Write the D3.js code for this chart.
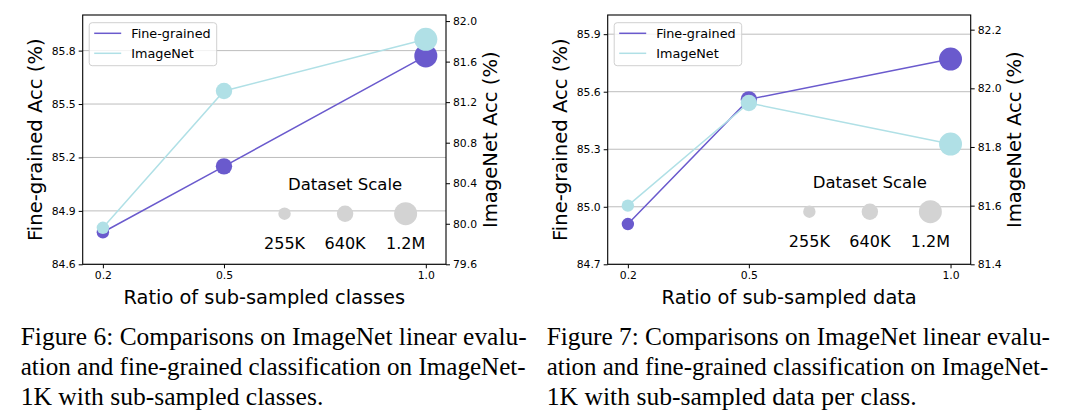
<!DOCTYPE html>
<html>
<head>
<meta charset="utf-8">
<script src="https://cdn.jsdelivr.net/npm/d3@7"></script>
<style>
  html, body { margin: 0; padding: 0; background: #fff; }
  svg { display: block; }
</style>
</head>
<body>
<svg id="chart" width="1072" height="416"></svg>
<script>
// ---------------- data ----------------
const ratios = [0.2, 0.5, 1.0];
const xTicks = [0.2, 0.5, 1.0];
const scaleLabels = ["255K", "640K", "1.2M"];
const scaleLegendX = [0.65, 0.8, 0.95];
const seriesNames = ["Fine-grained", "ImageNet"];

const fig6Fine = [84.78, 85.15, 85.77];
const fig6ImageNet = [79.96, 81.31, 81.82];
const fig6LeftTicks = [84.6, 84.9, 85.2, 85.5, 85.8];
const fig6RightTicks = [79.6, 80.0, 80.4, 80.8, 81.2, 81.6, 82.0];

const fig7Fine = [84.91, 85.56, 85.77];
const fig7ImageNet = [81.60, 81.95, 81.81];
const fig7LeftTicks = [84.7, 85.0, 85.3, 85.6, 85.9];
const fig7RightTicks = [81.4, 81.6, 81.8, 82.0, 82.2];

const caption6 = ["Figure 6: Comparisons on ImageNet linear evalu-",
                  "ation and fine-grained classification on ImageNet-",
                  "1K with sub-sampled classes."];
const caption7 = ["Figure 7: Comparisons on ImageNet linear evalu-",
                  "ation and fine-grained classification on ImageNet-",
                  "1K with sub-sampled data per class."];

// ---------------- styles ----------------
const FINE_COLOR = "#6a5acd";
const IN_COLOR = "#b0e0e6";
const GRID_COLOR = "#bdbdbd";
const SCALE_COLOR = "#d3d3d3";
const radius = d3.scaleOrdinal().domain([0, 1, 2]).range([6.2, 8.2, 11.5]);
const FONT = "DejaVu Sans, sans-serif";

const svg = d3.select("#chart");

const panels = [
  { left: 82.7, right: 446, top: 15, bottom: 264.3,
    xDomain: [0.15, 1.05], yLDomain: [84.6, 86.0], yRDomain: [79.6, 82.06],
    fine: fig6Fine, imagenet: fig6ImageNet, lTicks: fig6LeftTicks, rTicks: fig6RightTicks,
    xLabel: "Ratio of sub-sampled classes", legendFrac: 0.203 },
  { left: 607.7, right: 970.7, top: 15, bottom: 264.3,
    xDomain: [0.15, 1.05], yLDomain: [84.7, 86.0], yRDomain: [81.4, 82.25],
    fine: fig7Fine, imagenet: fig7ImageNet, lTicks: fig7LeftTicks, rTicks: fig7RightTicks,
    xLabel: "Ratio of sub-sampled data", legendFrac: 0.211 }
];

panels.forEach(p => {
  const g = svg.append("g");
  const x = d3.scaleLinear().domain(p.xDomain).range([p.left, p.right]);
  const yL = d3.scaleLinear().domain(p.yLDomain).range([p.bottom, p.top]);
  const yR = d3.scaleLinear().domain(p.yRDomain).range([p.bottom, p.top]);
  const w = p.right - p.left, h = p.bottom - p.top;

  // grid
  g.append("g").selectAll("line").data(p.lTicks).join("line")
    .attr("x1", p.left).attr("x2", p.right)
    .attr("y1", d => yL(d)).attr("y2", d => yL(d))
    .attr("stroke", GRID_COLOR).attr("stroke-width", 1);

  // dataset scale legend (gray circles)
  const ly = p.bottom - p.legendFrac * h;
  const sl = g.append("g");
  sl.selectAll("circle").data(scaleLegendX).join("circle")
    .attr("cx", d => x(d)).attr("cy", ly)
    .attr("r", (d, i) => radius(i)).attr("fill", SCALE_COLOR);
  sl.selectAll("text.lab").data(scaleLabels).join("text").attr("class", "lab")
    .attr("x", (d, i) => x(scaleLegendX[i])).attr("y", ly + 30)
    .attr("text-anchor", "middle").attr("dominant-baseline", "central")
    .attr("font-family", FONT).attr("font-size", 16).attr("fill", "#000")
    .text(d => d);
  sl.append("text")
    .attr("x", x(scaleLegendX[1])).attr("y", ly - 29.5)
    .attr("text-anchor", "middle").attr("dominant-baseline", "central")
    .attr("font-family", FONT).attr("font-size", 16.5).attr("fill", "#000")
    .text("Dataset Scale");

  // series
  const series = [
    { vals: p.fine, y: yL, color: FINE_COLOR },
    { vals: p.imagenet, y: yR, color: IN_COLOR }
  ];
  series.forEach(s => {
    const line = d3.line().x((d, i) => x(ratios[i])).y(d => s.y(d));
    g.append("path").datum(s.vals).attr("d", line)
      .attr("fill", "none").attr("stroke", s.color).attr("stroke-width", 1.5);
    g.append("g").selectAll("circle").data(s.vals).join("circle")
      .attr("cx", (d, i) => x(ratios[i])).attr("cy", d => s.y(d))
      .attr("r", (d, i) => radius(i)).attr("fill", s.color);
  });

  // axes
  const axB = d3.axisBottom(x).tickValues(xTicks).tickFormat(d3.format(".1f"))
    .tickSize(4).tickSizeOuter(0).tickPadding(3);
  const axL = d3.axisLeft(yL).tickValues(p.lTicks).tickFormat(d3.format(".1f"))
    .tickSize(4).tickSizeOuter(0).tickPadding(3);
  const axR = d3.axisRight(yR).tickValues(p.rTicks).tickFormat(d3.format(".1f"))
    .tickSize(4).tickSizeOuter(0).tickPadding(3);
  [[axB, `translate(0,${p.bottom})`], [axL, `translate(${p.left},0)`], [axR, `translate(${p.right},0)`]]
    .forEach(([ax, tr]) => {
      const ag = g.append("g").attr("transform", tr).call(ax);
      ag.select(".domain").remove();
      ag.selectAll("text").attr("font-family", FONT).attr("font-size", 10.8).attr("fill", "#000");
      ag.selectAll("line").attr("stroke", "#000").attr("stroke-width", 1);
    });

  // frame
  g.append("rect").attr("x", p.left).attr("y", p.top).attr("width", w).attr("height", h)
    .attr("fill", "none").attr("stroke", "#000").attr("stroke-width", 1.1);

  // legend box
  const lg = g.append("g").attr("transform", `translate(${p.left + 6.5},${p.top + 7.7})`);
  lg.append("rect").attr("width", 127.5).attr("height", 43).attr("rx", 3)
    .attr("fill", "#fff").attr("fill-opacity", 0.8).attr("stroke", "#d0d0d0").attr("stroke-width", 1);
  [FINE_COLOR, IN_COLOR].forEach((c, i) => {
    const yy = 10.6 + i * 20;
    lg.append("line").attr("x1", 5).attr("x2", 32).attr("y1", yy).attr("y2", yy)
      .attr("stroke", c).attr("stroke-width", 1.5);
    lg.append("text").attr("x", 42).attr("y", yy).attr("dominant-baseline", "central")
      .attr("font-family", FONT).attr("font-size", 12.8).attr("fill", "#000")
      .text(seriesNames[i]);
  });

  // axis titles
  g.append("text").attr("x", (p.left + p.right) / 2).attr("y", 297)
    .attr("text-anchor", "middle").attr("dominant-baseline", "central")
    .attr("font-family", FONT).attr("font-size", 19.4).attr("fill", "#000")
    .text(p.xLabel);
  g.append("text")
    .attr("transform", `translate(${p.left - 47},${(p.top + p.bottom) / 2}) rotate(-90)`)
    .attr("text-anchor", "middle").attr("dominant-baseline", "central")
    .attr("font-family", FONT).attr("font-size", 19.6).attr("fill", "#000")
    .text("Fine-grained Acc (%)");
  g.append("text")
    .attr("transform", `translate(${p.right + 44},${(p.top + p.bottom) / 2}) rotate(-90)`)
    .attr("text-anchor", "middle").attr("dominant-baseline", "central")
    .attr("font-family", FONT).attr("font-size", 19.6).attr("fill", "#000")
    .text("ImageNet Acc (%)");
});

// ---------------- captions ----------------
const captions = [
  { lines: caption6, x0: 20.7, x1: [526.7, 525.7, 323.3] },
  { lines: caption7, x0: 546.7, x1: [1050, 1048.3, 916.7] }
];
const baselines = [345, 375, 404.5];
captions.forEach(c => {
  c.lines.forEach((t, i) => {
    const txt = svg.append("text").attr("x", c.x0).attr("y", baselines[i])
      .attr("font-family", "Liberation Serif, Times New Roman, serif")
      .attr("font-size", 25.6).attr("fill", "#000").text(t);
    const target = c.x1[i];
    const natural = txt.node().getComputedTextLength();
    const need = target - c.x0;
    const spaces = (t.match(/ /g) || []).length;
    if (natural < need) {
      txt.attr("word-spacing", (need - natural) / spaces);
    } else {
      txt.attr("textLength", need).attr("lengthAdjust", "spacingAndGlyphs");
    }
  });
});
</script>
</body>
</html>
